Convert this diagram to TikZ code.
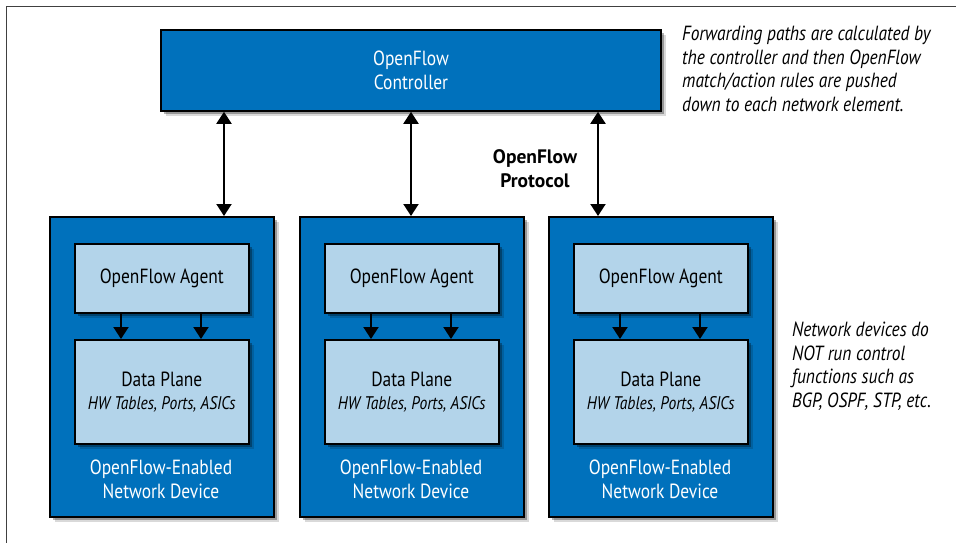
\documentclass[tikz,border=0pt]{standalone}
\usepackage{fontspec}
\setmainfont[FakeStretch=0.85]{PT Sans}
\newfontfamily\plainfont{PT Sans}
\usetikzlibrary{arrows.meta,shadows}
\definecolor{dblue}{HTML}{0071BC}
\definecolor{lblue}{HTML}{B3D4EA}
\tikzset{
  softshadow/.style={general shadow={shadow xshift=5pt, shadow yshift=-5pt, fill=black, opacity=0.15},
                     drop shadow={shadow xshift=3pt, shadow yshift=-3pt, fill=black, opacity=0.3}},
  darkbox/.style={draw=black, line width=1.6pt, fill=dblue, softshadow, inner sep=0pt},
  lightbox/.style={draw=black, line width=1.6pt, fill=lblue, softshadow, inner sep=0pt,
                   minimum width=174pt, align=center, text=black},
  devbox/.style={darkbox, minimum width=224pt, minimum height=300pt},
  agentbox/.style={lightbox, minimum height=69pt, font=\fontsize{20.5}{24}\selectfont},
  planebox/.style={lightbox, minimum height=104pt, font=\fontsize{20.5}{24}\selectfont},
  devlabel/.style={text=white, align=center, font=\fontsize{20.5}{24}\selectfont, inner sep=0pt},
  note/.style={align=left, anchor=north west, inner sep=0pt, font=\fontsize{20.5}{23.5}\selectfont\itshape},
  biarrow/.style={line width=2pt, {Triangle[width=15pt,length=12pt]}-{Triangle[width=15pt,length=12pt]}},
  downarrow/.style={line width=2pt, -{Triangle[width=15pt,length=12pt]}},
}
\begin{document}
\begin{tikzpicture}[x=1pt,y=-1pt]
\useasboundingbox (0,0) rectangle (956,543);
\fill[white] (0,0) rectangle (956,543);
\draw[black!75, line width=1pt] (6,560) -- (6,7) -- (970,7);

% controller
\node[darkbox, minimum width=500pt, minimum height=81pt, text=white, align=center,
      font=\fontsize{20.5}{24}\selectfont] (ctrl) at (411,70.5) {OpenFlow\\Controller};

% devices
\foreach \i/\x in {1/49,2/299,3/548}{
  \node[devbox, anchor=north west] (d\i) at (\x,216) {};
  \node[agentbox, anchor=north west] (a\i) at (\x+25,243) {OpenFlow Agent};
  \node[planebox, anchor=north west] (p\i) at (\x+25,339)
     {Data Plane\\[-1pt]{\fontsize{18.3}{22}\selectfont\itshape HW Tables, Ports, ASICs}};
  \node[devlabel] (l\i) at (\x+112,479) {OpenFlow-Enabled\\Network Device};
  \draw[downarrow] ([xshift=47pt]a\i.south west) -- ([xshift=47pt]p\i.north west);
  \draw[downarrow] ([xshift=127pt]a\i.south west) -- ([xshift=127pt]p\i.north west);
}

% controller-device arrows
\coordinate (c1) at (224,0);
\coordinate (c2) at (411,0);
\coordinate (c3) at (598,0);
\draw[biarrow] (ctrl.south -| c1) -- (d1.north -| c1);
\draw[biarrow] (ctrl.south -| c2) -- (d2.north -| c2);
\draw[biarrow] (ctrl.south -| c3) -- (d3.north -| c3);

\node[align=center, inner sep=0pt, font=\plainfont\fontsize{19.5}{24}\selectfont\bfseries] (proto) at (535,169) {OpenFlow\\Protocol};

\node[note] (n1) at (682,26) {Forwarding paths are calculated by\\the controller and then OpenFlow\\match/action rules are pushed\\down to each network element.};
\node[note] (n2) at (792,322) {Network devices do\\NOT run control\\functions such as\\BGP, OSPF, STP, etc.};
\end{tikzpicture}
\end{document}
